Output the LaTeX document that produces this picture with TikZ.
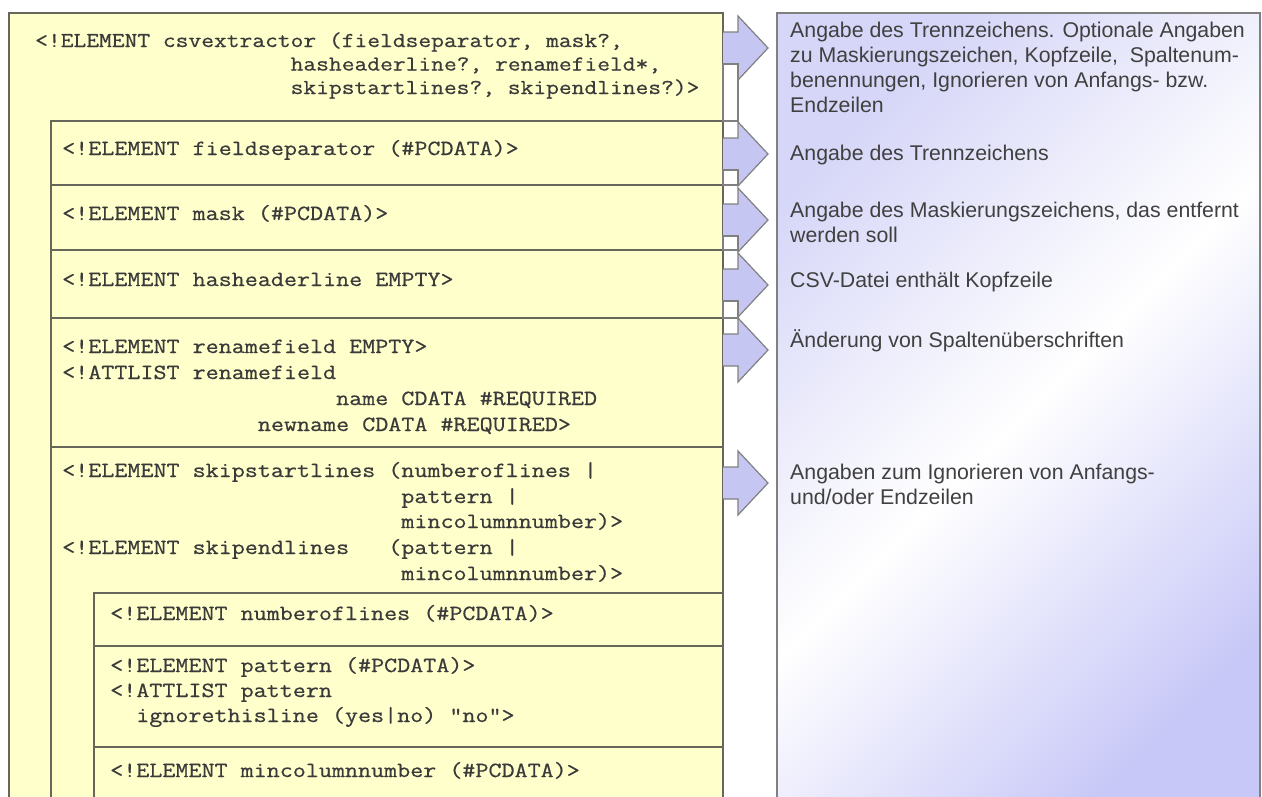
\documentclass[tikz,border=0pt]{standalone}
\usepackage{fontspec}
\setmainfont{Liberation Sans}
\setmonofont{Latin Modern Mono}[FakeStretch=1.17,FakeBold=0.6]
\definecolor{paper}{HTML}{FFFFCC}
\definecolor{boxline}{HTML}{66665A}
\definecolor{codetext}{HTML}{3A3A3A}
\definecolor{notetext}{HTML}{404040}
\definecolor{arrowfill}{HTML}{C6C6F2}
\definecolor{arrowline}{HTML}{808080}
\definecolor{lavtop}{HTML}{D6D6F8}
\definecolor{lavbot}{HTML}{C8C8F8}
\newcommand\ind[1]{\hspace*{\dimexpr#1\fontcharwd\font`x\relax}}
\begin{document}
\begin{tikzpicture}[x=1pt,y=-1pt,
  box/.style={draw=boxline,line width=1.6pt,fill=paper},
  divider/.style={draw=boxline,line width=1.6pt},
  code/.style={anchor=base west,inner sep=0pt,text=codetext,
    font=\fontsize{21.2}{24}\selectfont\ttfamily},
  codeb/.style={code,font=\fontsize{21.65}{24}\selectfont\ttfamily},
  note/.style={anchor=base west,inner sep=0pt,text=notetext,
    font=\fontsize{21.3}{25}\selectfont},
  arrowshape/.style={draw=arrowline,fill=arrowfill,line width=1.2pt},
  gapbox/.style={draw=arrowline,fill=white,line width=1.2pt}]
\useasboundingbox (0,0) rectangle (1262,796);
\fill[white] (0,0) rectangle (1262,796);
% right description panel
\shade[top color=lavtop,bottom color=lavbot,middle color=white,shading angle=45]
  (777,13) rectangle (1260,830);
\draw[arrowline,line width=1.6pt] (777,830) -- (777,13) -- (1260,13) -- (1260,830);
% nested code boxes
\path[box] (9,13) rectangle (723,830);
\path[box] (51,121) rectangle (723,830);
\draw[divider] (51,185) -- (723,185);
\draw[divider] (51,250) -- (723,250);
\draw[divider] (51,318) -- (723,318);
\draw[divider] (51,447) -- (723,447);
\path[box] (94,593) rectangle (723,830);
\draw[divider] (94,646) -- (723,646);
\draw[divider] (94,747) -- (723,747);
% code texts
\node[code] (c0a) at (35,47) {<!ELEMENT csvextractor (fieldseparator, mask?,};
\node[code] (c0b) at (35,70.5) {\ind{20}hasheaderline?, renamefield*,};
\node[code] (c0c) at (35,94) {\ind{20}skipstartlines?, skipendlines?)>};
\node[codeb] (c1) at (62,155) {<!ELEMENT fieldseparator (\#PCDATA)>};
\node[codeb] (c2) at (62,220) {<!ELEMENT mask (\#PCDATA)>};
\node[codeb] (c3) at (62,286) {<!ELEMENT hasheaderline EMPTY>};
\node[codeb] (c4a) at (62,353) {<!ELEMENT renamefield EMPTY>};
\node[codeb] (c4b) at (62,379) {<!ATTLIST renamefield};
\node[codeb] (c4c) at (62,405) {\ind{21}name CDATA \#REQUIRED};
\node[codeb] (c4d) at (62,431) {\ind{15}newname CDATA \#REQUIRED>};
\node[codeb] (c5a) at (62,477) {<!ELEMENT skipstartlines (numberoflines |};
\node[codeb] (c5b) at (62,503) {\ind{26}pattern |};
\node[codeb] (c5c) at (62,528) {\ind{26}mincolumnnumber)>};
\node[codeb] (c5d) at (62,554) {<!ELEMENT skipendlines\ind{3}(pattern |};
\node[codeb] (c5e) at (62,580) {\ind{26}mincolumnnumber)>};
\node[codeb] (c6) at (110,620) {<!ELEMENT numberoflines (\#PCDATA)>};
\node[codeb] (c7a) at (110,672) {<!ELEMENT pattern (\#PCDATA)>};
\node[codeb] (c7b) at (110,697) {<!ATTLIST pattern};
\node[codeb] (c7c) at (110,722) {\ind{2}ignorethisline (yes|no) "no">};
\node[codeb] (c8) at (110,777) {<!ELEMENT mincolumnnumber (\#PCDATA)>};
% arrows
\foreach \c in {48,154,220,285,350,483}{
  \draw[arrowshape] (723,\c-16) -- (738,\c-16) -- (738,\c-32) -- (768,\c)
    -- (738,\c+32) -- (738,\c+16) -- (723,\c+16);
}
\draw[gapbox] (723,64) rectangle (738,121);
\draw[gapbox] (723,170) rectangle (738,185);
\draw[gapbox] (723,236) rectangle (738,250);
\draw[gapbox] (723,301) rectangle (738,318);
% notes
\node[note] (n0a) at (790,37) {Angabe des Trennzeichens. Optionale Angaben};
\node[note] (n0b) at (790,62) {zu Maskierungszeichen, Kopfzeile,\ \ Spaltenum-};
\node[note] (n0c) at (790,87) {benennungen, Ignorieren von Anfangs- bzw.};
\node[note] (n0d) at (790,112) {Endzeilen};
\node[note] (n1) at (790,160) {Angabe des Trennzeichens};
\node[note] (n2a) at (790,217) {Angabe des Maskierungszeichens, das entfernt};
\node[note] (n2b) at (790,242) {werden soll};
\node[note] (n3) at (790,287) {CSV-Datei enthält Kopfzeile};
\node[note] (n4) at (790,347) {Änderung von Spaltenüberschriften};
\node[note] (n5a) at (790,479) {Angaben zum Ignorieren von Anfangs-};
\node[note] (n5b) at (790,504) {und/oder Endzeilen};
\end{tikzpicture}
\end{document}
